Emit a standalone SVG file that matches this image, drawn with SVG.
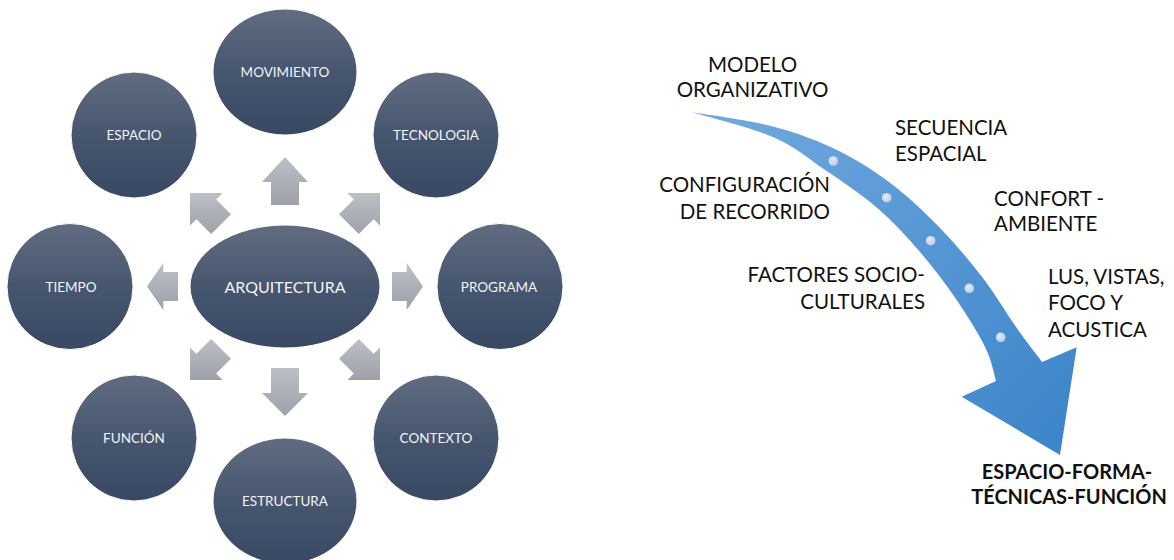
<svg xmlns="http://www.w3.org/2000/svg" width="1174" height="560" viewBox="0 0 1174 560">
<defs>
<linearGradient id="gNode" x1="0" y1="0" x2="0" y2="1">
<stop offset="0" stop-color="#616c80"/>
<stop offset="0.5" stop-color="#47566f"/>
<stop offset="1" stop-color="#3a4963"/>
</linearGradient>
<linearGradient id="gArrow" x1="0" y1="0" x2="0" y2="1">
<stop offset="0" stop-color="#bcbfc6"/>
<stop offset="1" stop-color="#9ea1a8"/>
</linearGradient>
<linearGradient id="gBlue" gradientUnits="userSpaceOnUse" x1="700" y1="110" x2="1050" y2="450">
<stop offset="0" stop-color="#72a9df"/>
<stop offset="1" stop-color="#3d86ca"/>
</linearGradient>
<radialGradient id="gDot" cx="0.4" cy="0.35" r="0.7">
<stop offset="0" stop-color="#e4ecf7"/>
<stop offset="1" stop-color="#b9cbe6"/>
</radialGradient>
</defs>
<style>
.node{fill:url(#gNode);stroke:#ffffff;stroke-width:1}
.nt{font-family:Lato,"Open Sans","Liberation Sans",sans-serif;font-size:13.5px;fill:#f2f4f7;text-anchor:middle}
.ct{font-size:16px}
.arr{fill:url(#gArrow)}
.lbl{font-family:Lato,"Open Sans","Liberation Sans",sans-serif;font-size:20.5px;fill:#111111}
.bold{font-weight:bold;font-size:20px;text-anchor:middle}
.dot{fill:url(#gDot)}
</style>
<rect width="1174" height="560" fill="#ffffff"/>

<g id="connectors">
<polygon class="arr" points="285,157 308,182 299,182 299,205 271,205 271,182 262,182"/>
<polygon class="arr" points="285,416 308,393 299,393 299,368 271,368 271,393 262,393"/>
<polygon class="arr" points="147,286.5 163.3,263 163.3,272 178,272 178,301 163.3,301 163.3,310"/>
<polygon class="arr" points="423,286.5 406.7,263 406.7,272 392,272 392,301 406.7,301 406.7,310"/>
<polygon class="arr" points="190,193 222.5,193 216.2,199.4 231,214.2 211.2,234 196.4,219.2 190,225.5"/>
<polygon class="arr" points="380,193 347.5,193 353.8,199.4 339,214.2 358.8,234 373.6,219.2 380,225.5"/>
<polygon class="arr" points="190,380 222.5,380 216.2,373.6 231,358.8 211.2,339 196.4,353.8 190,347.5"/>
<polygon class="arr" points="380,380 347.5,380 353.8,373.6 339,358.8 358.8,339 373.6,353.8 380,347.5"/>
</g>

<g id="arquitectura"><ellipse class="node" cx="285" cy="286.5" rx="95" ry="61.5"/><text class="nt ct" x="285" y="292.5">ARQUITECTURA</text></g>
<g id="movimiento"><ellipse class="node" cx="285" cy="72" rx="72" ry="63"/><text class="nt" x="285" y="77">MOVIMIENTO</text></g>
<g id="estructura"><ellipse class="node" cx="285" cy="501" rx="72" ry="63"/><text class="nt" x="285" y="506">ESTRUCTURA</text></g>
<g id="espacio"><circle class="node" cx="134" cy="135" r="63"/><text class="nt" x="134" y="140">ESPACIO</text></g>
<g id="tecnologia"><circle class="node" cx="436" cy="135" r="63"/><text class="nt" x="436" y="140">TECNOLOGIA</text></g>
<g id="tiempo"><circle class="node" cx="70" cy="286.5" r="63"/><text class="nt" x="71" y="291.5">TIEMPO</text></g>
<g id="programa"><circle class="node" cx="500" cy="286.5" r="63"/><text class="nt" x="499" y="291.5">PROGRAMA</text></g>
<g id="funcion"><circle class="node" cx="134" cy="438" r="63"/><text class="nt" x="134" y="443">FUNCIÓN</text></g>
<g id="contexto"><circle class="node" cx="436" cy="438" r="63"/><text class="nt" x="436" y="443">CONTEXTO</text></g>

<g id="flecha-proceso">
<path fill="url(#gBlue)" d="M691,112 C704.7,114.4 748.2,119.9 773,126.5 C797.8,133.1 819.6,141.3 840,151.4 C860.4,161.5 878.5,173.7 895.5,186.9 C912.5,200.1 927.6,215.1 942.2,230.3 C956.8,245.5 970.8,262.1 983.1,278.3 C995.4,294.5 1006.4,313.3 1016.2,327.3 C1026,341.3 1037.7,356.2 1042,362 L1076.7,347.3 L1060,455 L961.7,396.7 L996,381 C994.2,375.4 992,361.1 985.2,347.3 C978.5,333.5 966.5,314.3 955.5,298.3 C944.5,282.3 932.1,266.1 919.2,251.1 C906.3,236.1 893.4,221.9 877.9,208.5 C862.4,195.1 843.5,182.5 826,170.6 C808.5,158.7 795.5,146.8 773,137 C750.5,127.2 704.7,116.2 691,112 Z"/>
<circle class="dot" cx="833.3" cy="161" r="4.8"/>
<circle class="dot" cx="886.7" cy="197.7" r="4.8"/>
<circle class="dot" cx="930.7" cy="240.7" r="4.8"/>
<circle class="dot" cx="969.3" cy="288.3" r="4.8"/>
<circle class="dot" cx="1000.7" cy="337.3" r="4.8"/>
</g>

<g id="etiquetas">
<text class="lbl" text-anchor="middle" x="752.5" y="71.5">MODELO</text>
<text class="lbl" text-anchor="middle" x="752.5" y="97">ORGANIZATIVO</text>
<text class="lbl" x="895" y="134.5">SECUENCIA</text>
<text class="lbl" x="895" y="161">ESPACIAL</text>
<text class="lbl" text-anchor="end" x="830" y="192">CONFIGURACIÓN</text>
<text class="lbl" text-anchor="end" x="830" y="218.5">DE RECORRIDO</text>
<text class="lbl" x="994" y="205.5">CONFORT -</text>
<text class="lbl" x="994" y="231">AMBIENTE</text>
<text class="lbl" text-anchor="end" x="925" y="282">FACTORES SOCIO-</text>
<text class="lbl" text-anchor="end" x="925" y="308.5">CULTURALES</text>
<text class="lbl" x="1048" y="283.5">LUS, VISTAS,</text>
<text class="lbl" x="1048" y="310">FOCO Y</text>
<text class="lbl" x="1048" y="336.5">ACUSTICA</text>
<text class="lbl bold" x="1067" y="478.5">ESPACIO-FORMA-</text>
<text class="lbl bold" x="1069" y="503.5">TÉCNICAS-FUNCIÓN</text>
</g>
</svg>
